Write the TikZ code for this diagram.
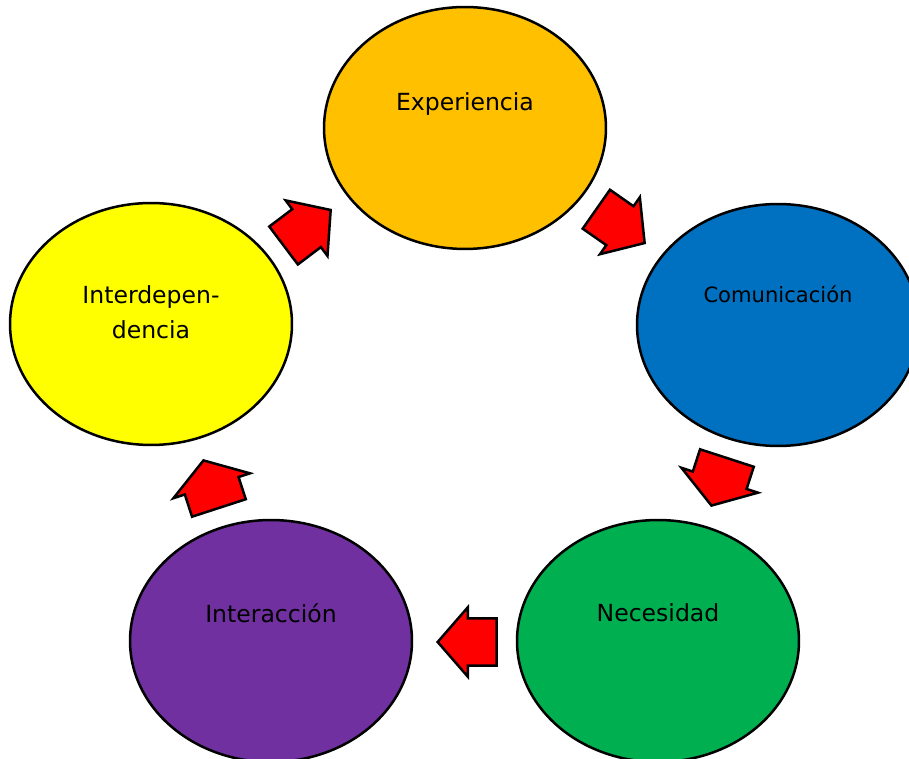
\documentclass[tikz,border=0pt]{standalone}
\usepackage{fontspec}
\setmainfont{DejaVu Sans}
\usetikzlibrary{shapes.geometric,shapes.arrows}
\definecolor{expfill}{HTML}{FFC000}
\definecolor{comfill}{HTML}{0070C0}
\definecolor{necfill}{HTML}{00B050}
\definecolor{intfill}{HTML}{7030A0}
\definecolor{depfill}{HTML}{FFFF00}
\tikzset{
 bubble/.style={ellipse, draw=black, line width=0.05cm, minimum width=5.64cm, minimum height=4.84cm, inner sep=0},
 caption/.style={font=\fontsize{13.4}{19.8}\selectfont, align=center, inner sep=0},
 blockarrow/.style={single arrow, draw=black, fill=red, line width=0.05cm, inner xsep=0, anchor=tip},
 longarrow/.style={blockarrow, inner ysep=0.45cm, minimum height=1.18cm, single arrow head extend=0.22cm, single arrow tip angle=98},
 widearrow/.style={blockarrow, inner ysep=0.54cm, minimum height=1.0cm, single arrow head extend=0.24cm, single arrow tip angle=113}
}
\begin{document}
\begin{tikzpicture}[x=0.02cm, y=-0.02cm]
\clip (0,0) rectangle (909,759);
\node[bubble, fill=expfill] (exp) at (465,128) {};
\node[bubble, fill=comfill] (com) at (778,325) {};
\node[bubble, fill=necfill] (nec) at (658,641) {};
\node[bubble, fill=intfill] (int) at (271,641) {};
\node[bubble, fill=depfill] (dep) at (151,324) {};

\path (exp.center) ++(0,-24) node[caption] (expt) {Experiencia};
\path (com.center) ++(0,-31) node[caption, font=\fontsize{12}{14}\selectfont] (comt) {Comunicación};
\path (nec.center) ++(0,-28) node[caption] (nect) {Necesidad};
\path (int.center) ++(0,-28) node[caption] (intt) {Interacción};
\path (dep.center) ++(0,-12) node[caption] (dept) {Interdepen-\\dencia};

\node[longarrow, rotate=37] (a1) at (332,209) {};
\node[longarrow, rotate=-35] (a2) at (646,244) {};
\node[widearrow, rotate=-108] (a3) at (711,507) {};
\node[longarrow, rotate=180] (a4) at (436,642) {};
\node[widearrow, rotate=108] (a5) at (203,459) {};
\end{tikzpicture}
\end{document}
